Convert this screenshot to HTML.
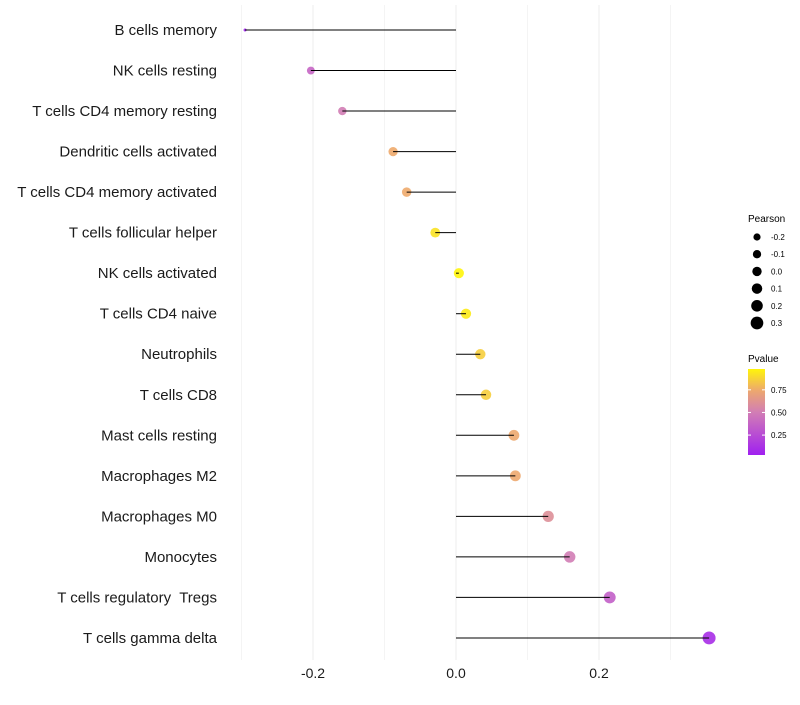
<!DOCTYPE html>
<html><head><meta charset="utf-8"><style>
body{margin:0;background:#fff;font-family:"Liberation Sans",sans-serif}
svg text{font-family:"Liberation Sans",sans-serif;white-space:pre}
</style></head><body>
<svg id="chart" width="800" height="700"></svg>
<script>
const categories=["B cells memory","NK cells resting","T cells CD4 memory resting","Dendritic cells activated","T cells CD4 memory activated","T cells follicular helper","NK cells activated","T cells CD4 naive","Neutrophils","T cells CD8","Mast cells resting","Macrophages M2","Macrophages M0","Monocytes","T cells regulatory  Tregs","T cells gamma delta"];
const pearson=[-0.295,-0.203,-0.159,-0.088,-0.069,-0.029,0.004,0.014,0.034,0.042,0.081,0.083,0.129,0.159,0.215,0.354];
const pvalue=[0.04,0.38,0.5,0.75,0.75,0.92,0.98,0.95,0.86,0.86,0.74,0.74,0.6,0.5,0.35,0.1];
const xTicks=[-0.2,0,0.2];
const xTickLabels=["-0.2","0.0","0.2"];
const sizeLegend=[-0.2,-0.1,0.0,0.1,0.2,0.3];
const colorTicks=[0.25,0.5,0.75];
const NS="http://www.w3.org/2000/svg";
const svg=document.getElementById('chart');
function mk(t,a,p){const e=document.createElementNS(NS,t);for(const k in a)e.setAttribute(k,a[k]);(p||svg).appendChild(e);return e;}
const x=v=>456+v*715;
const y=i=>30+i*40.53;
const r=v=>Math.sqrt(Math.max(2.25, v>=-0.2?16+(v+0.2)*47:16-(-0.2-v)*144));
const stops=[[0,[160,32,240]],[0.5,[210,126,180]],[0.75,[237,168,110]],[1,[255,245,10]]];
function col(p){const t=Math.max(0,Math.min(1,(p-0.03)/0.95));
for(let k=1;k<stops.length;k++){if(t<=stops[k][0]){const a=stops[k-1],b=stops[k];const u=(t-a[0])/(b[0]-a[0]);
return 'rgb('+a[1].map((c,j)=>Math.round(c+(b[1][j]-c)*u)).join(',')+')';}}return 'rgb(255,245,10)';}
for(let g=-0.3;g<=0.31;g+=0.1){const l=mk('line',{x1:x(g),x2:x(g),y1:5,y2:660,stroke:Math.abs(Math.round(g*10))%2==0?'#ececec':'#f4f4f4','stroke-width':1});
}
categories.forEach((c,i)=>{
const t=mk('text',{x:217,y:y(i)+5,'text-anchor':'end','font-size':15,fill:'#1a1a1a'});t.textContent=c;

const p=mk('circle',{cx:x(pearson[i]),cy:y(i),r:r(pearson[i]),fill:col(pvalue[i]),opacity:0.9});

const l=mk('line',{x1:x(0),x2:x(pearson[i]),y1:y(i),y2:y(i),stroke:'#000','stroke-width':1});

});
xTicks.forEach((v,i)=>{const t=mk('text',{x:x(v),y:678,'text-anchor':'middle','font-size':14,fill:'#1a1a1a'});t.textContent=xTickLabels[i];
});
let t=mk('text',{x:748,y:222,'font-size':10,fill:'#000'});t.textContent='Pearson';

sizeLegend.forEach((v,i)=>{const yy=237+i*17.2;
const c=mk('circle',{cx:757,cy:yy,r:3.6+i*0.55,fill:'#000'});
const tt=mk('text',{x:771,y:yy+3,'font-size':8,fill:'#000'});tt.textContent=v.toFixed(1);
});
t=mk('text',{x:748,y:362,'font-size':10,fill:'#000'});t.textContent='Pvalue';

const defs=mk('defs',{});const lg=mk('linearGradient',{id:'g',x1:0,y1:1,x2:0,y2:0},defs);
stops.forEach(s=>mk('stop',{offset:s[0],'stop-color':'rgb('+s[1].join(',')+')'},lg));
const cb=mk('rect',{x:748,y:369,width:17,height:86,fill:'url(#g)'});
const cy=p=>455-(p-0.03)/0.95*86;
colorTicks.forEach(v=>{mk('line',{x1:748,x2:751,y1:cy(v),y2:cy(v),stroke:'#fff'});mk('line',{x1:762,x2:765,y1:cy(v),y2:cy(v),stroke:'#fff'});
const tt=mk('text',{x:771,y:cy(v)+3,'font-size':8,fill:'#000'});tt.textContent=v.toFixed(2);
});
</script>
</body></html>
